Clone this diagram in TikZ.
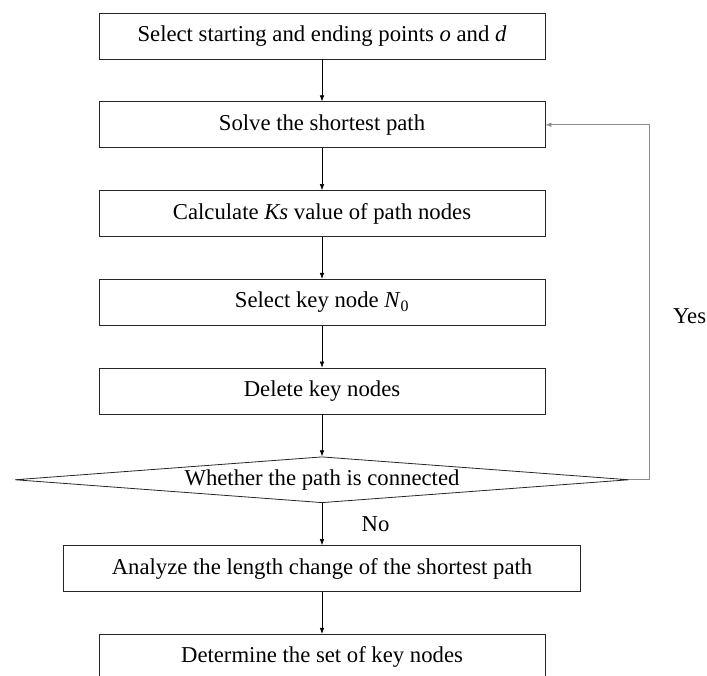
\documentclass[tikz,border=0pt]{standalone}
\usepackage{fontspec}
\setmainfont{Liberation Serif}
\usetikzlibrary{positioning,shapes.geometric,arrows.meta}

\begin{document}
\begin{tikzpicture}[auto, x=1pt, y=1pt, node distance=88.75pt,
  font=\fontsize{22.7}{27}\selectfont,
  >={Latex[length=6pt,width=4.5pt]},
  box/.style={draw=black!85, line width=0.8pt, minimum width=446pt,
    minimum height=46pt, inner sep=0pt},
  test/.style={box, diamond, aspect=14, minimum width=614pt},
  back/.style={->, draw=black!45, line width=0.7pt}]
\useasboundingbox (-322,36) rectangle (385,-639);
\node [box] (1) {Select starting and ending points \textit{o} and \textit{d}};
\node [box, below of=1] (2) {Solve the shortest path};
\node [box, below of=2] (3) {Calculate \textit{Ks} value of path nodes};
\node [box, below of=3] (4) {Select key node \textit{N}\textsubscript{0}};
\node [box, below of=4] (5) {Delete key nodes};
\node [test, below of=5] (6) {Whether the path is connected};
\node [box, minimum width=517pt, below of=6] (7) {Analyze the length change of the shortest path};
\node [box, below of=7] (8) {Determine the set of key nodes};
\path[->, draw, line width=0.6pt] (1) edge (2)
          (2) edge (3)
          (3) edge (4)
          (4) edge (5)
          (5) edge (6)
          (6) edge node [right=36pt] {No} (7)
          (7) edge (8);
\draw[back] (6.east) -- ++(20,0) |- node [pos=0.23, right=20pt] {Yes} (2.east);
\end{tikzpicture}
\end{document}
